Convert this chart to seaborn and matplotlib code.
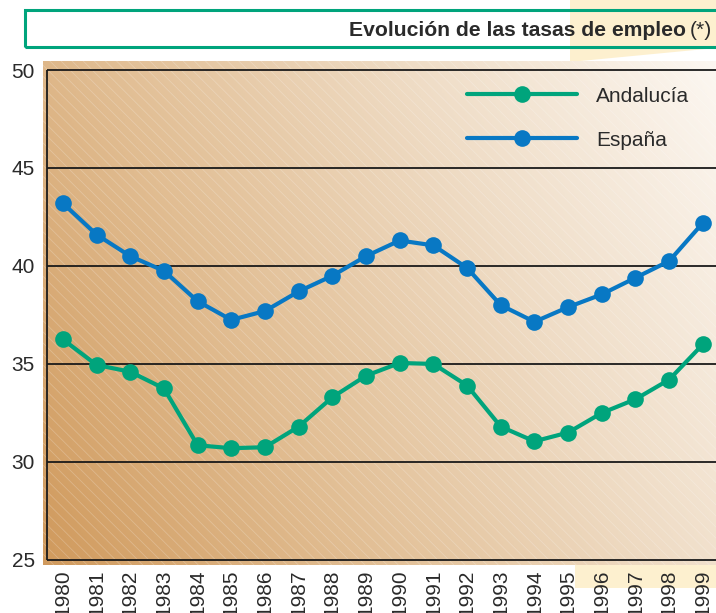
"""Evolucion de las tasas de empleo: Andalucia vs Espana, 1980-1999."""
import numpy as np
import pandas as pd
import matplotlib
matplotlib.use("Agg")
import matplotlib.pyplot as plt
from matplotlib.patches import Rectangle, Polygon
from matplotlib.colors import LinearSegmentedColormap
import seaborn as sns

# Data.
years = list(range(1980, 2000))
andalucia = [36.25, 34.95, 34.6, 33.75, 30.85, 30.7, 30.75, 31.8, 33.3, 34.4,
             35.05, 35.0, 33.9, 31.8, 31.05, 31.5, 32.5, 33.2, 34.2, 36.0]
espana = [43.2, 41.6, 40.5, 39.75, 38.2, 37.25, 37.7, 38.7, 39.5, 40.5,
          41.3, 41.05, 39.9, 38.0, 37.15, 37.9, 38.55, 39.4, 40.25, 42.2]
series_names = ["Andalucía", "España"]
y_ticks = [25, 30, 35, 40, 45, 50]

GREEN = "#00a47c"
BLUE = "#0878c4"
TEXT = "#2a2a2a"

df = pd.DataFrame({
    "year": years * 2,
    "tasa": andalucia + espana,
    "region": [series_names[0]] * len(years) + [series_names[1]] * len(years),
})

sns.set_style("white")
plt.rcParams["font.family"] = ["Liberation Sans", "DejaVu Sans"]
plt.rcParams["hatch.linewidth"] = 0.6

W, H = 716, 613
fig = plt.figure(figsize=(W / 100, H / 100), dpi=100)


def fx(px):
    return px / W


def fy(py):
    return 1 - py / H


ax = fig.add_axes([fx(43), fy(565), fx(716) - fx(43), fy(61) - fy(565)])

# Background gradient (tan bottom-left -> almost white top-right).
cmap = LinearSegmentedColormap.from_list(
    "sand", ["#d09a5d", "#e1bd92", "#efdcc5", "#fcf7f1"])
gx, gy = np.meshgrid(np.linspace(0, 1, 300), np.linspace(0, 1, 300))
grad = 0.72 * gx + 0.28 * gy
ax.imshow(grad, cmap=cmap, extent=[0, 1, 0, 1], transform=ax.transAxes,
          origin="lower", aspect="auto", zorder=0, vmin=0, vmax=1)
ax.add_patch(Rectangle((0, 0), 1, 1, transform=ax.transAxes,
                       facecolor="none", edgecolor=(1, 1, 1, 0.22),
                       hatch="\\\\\\", linewidth=0, zorder=0.5))

x_left, x_right = 1979.41, 1999.39
spine_x = 1979.52
ax.set_xlim(x_left, x_right)
ax.set_ylim(24.74, 50.46)

# Horizontal rules and left spine.
ax.hlines(y_ticks, spine_x, x_right, color="#1a1a1a", linewidth=1.3, zorder=1)
ax.vlines(spine_x, 25, 50, color="#1a1a1a", linewidth=1.3, zorder=1)

sns.lineplot(data=df, x="year", y="tasa", hue="region",
             palette=[GREEN, BLUE], marker="o", markersize=12,
             markeredgewidth=0, linewidth=3, legend=False, ax=ax, zorder=3)

for side in ["top", "right", "bottom", "left"]:
    ax.spines[side].set_visible(False)

ax.set_xticks(years)
ax.set_xticklabels([str(y) for y in years], rotation=90, fontsize=15,
                   color=TEXT)
ax.set_yticks(y_ticks)
ax.set_yticklabels([str(v) for v in y_ticks], fontsize=15, color=TEXT)
ax.tick_params(axis="x", length=0, pad=3.5)
ax.tick_params(axis="y", length=0, pad=6)
ax.set_xlabel("")
ax.set_ylabel("")

# Legend built from the drawn lines.
handles = ax.get_lines()[-2:]
ax.legend(handles, series_names, loc="upper left",
          bbox_to_anchor=(fx(448 - 43) / (fx(716) - fx(43)), 1 - 7 / 504),
          frameon=False, fontsize=15, handlelength=5.3, handletextpad=0.9,
          labelspacing=1.2, labelcolor=TEXT)

# Pale yellow decorations behind the title and the last tick labels.
fig.patches.append(Polygon(
    [(fx(570), fy(0)), (fx(716), fy(0)), (fx(716), fy(48)), (fx(570), fy(62))],
    closed=True, transform=fig.transFigure, facecolor="#fdf0cf",
    edgecolor="none", zorder=-2))
fig.patches.append(Rectangle(
    (fx(575), fy(588)), fx(716) - fx(575), fy(565) - fy(588),
    transform=fig.transFigure, facecolor="#fdf0cf", edgecolor="none",
    zorder=-2))

# Title box.
fig.patches.append(Rectangle(
    (fx(25), fy(47)), 1.05 - fx(25), fy(10) - fy(47),
    transform=fig.transFigure, facecolor="none", edgecolor=GREEN,
    linewidth=2.2, zorder=2))

star = fig.text(fx(712), fy(30), "(*)", ha="right", va="center",
                fontsize=15.2, color=TEXT)
fig.canvas.draw()
bb = star.get_window_extent(renderer=fig.canvas.get_renderer())
fig.text(bb.x0 / W - fx(4), fy(30), "Evolución de las tasas de empleo",
         ha="right", va="center", fontsize=15.2, fontweight="bold", color=TEXT)

fig.savefig("out.png", dpi=100)
